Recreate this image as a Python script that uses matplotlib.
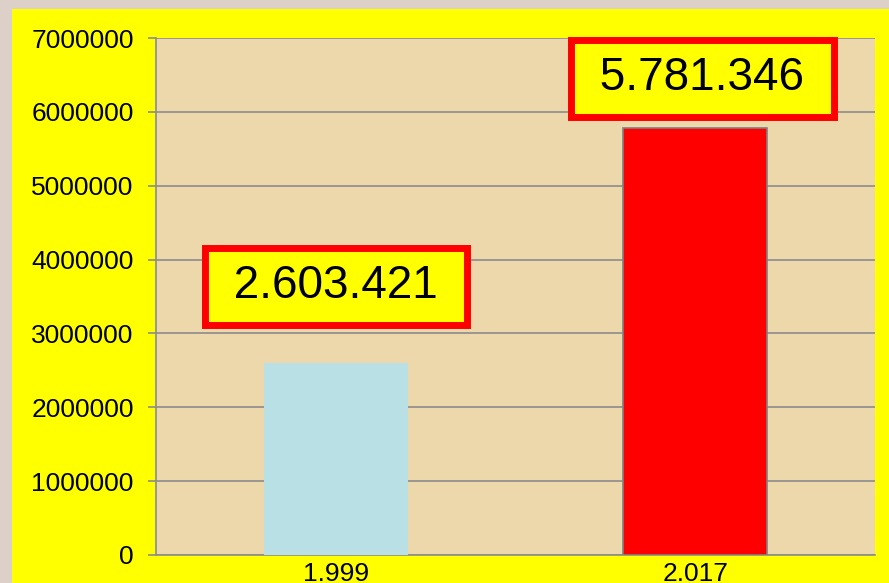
import numpy as np
import matplotlib.pyplot as plt
from matplotlib.patches import Rectangle
from matplotlib.ticker import MultipleLocator, FuncFormatter

plt.rcParams['font.family'] = ['Liberation Sans', 'DejaVu Sans']

# data
years = ['1.999', '2.017']
population = [2603421, 5781346]
value_labels = ['2.603.421', '5.781.346']

bar_colors = ['#b9e0e5', '#ff0000']
bar_edges = ['none', '#808080']
label_offsets = [(0, 55), (5, 36)]   # points above bar top

fig = plt.figure(figsize=(8.89, 5.83), dpi=100, facecolor='#ddd0c8')
# yellow chart area
fig.patches.append(Rectangle((12 / 889, 0), 1, 1 - 9 / 583, transform=fig.transFigure,
                             facecolor='#ffff00', edgecolor='none', zorder=-10))

ax = fig.add_axes([156 / 889, 28 / 583, 719 / 889, 517 / 583])
ax.set_facecolor('#ecd8ab')

x = np.arange(len(years))
bars = ax.bar(x, population, 0.4, color=bar_colors, edgecolor=bar_edges, linewidth=1.2, zorder=3)

ax.set_xlim(-0.5, len(years) - 0.5)
ax.set_ylim(0, 7000000)
ax.yaxis.set_major_locator(MultipleLocator(1000000))
ax.yaxis.set_major_formatter(FuncFormatter(lambda v, p: '%d' % v))
ax.set_xticks(x)
ax.set_xticklabels(years)
ax.grid(axis='y', color='#8c8c8c', linewidth=1.2, zorder=1)
ax.set_axisbelow(True)

for s in ['top', 'right']:
    ax.spines[s].set_visible(False)
for s in ['left', 'bottom']:
    ax.spines[s].set_color('#8c8c8c')
    ax.spines[s].set_linewidth(1.2)

ax.tick_params(axis='y', length=6, color='#8c8c8c', width=1.2, pad=10, labelsize=19)
ax.tick_params(axis='x', length=0, pad=5, labelsize=19)

for i, b in enumerate(bars):
    ax.annotate(' ' + value_labels[i] + ' ', (b.get_x() + b.get_width() / 2, b.get_height()),
                xytext=label_offsets[i], textcoords='offset points',
                ha='center', va='center', fontsize=33, zorder=5,
                bbox=dict(boxstyle='square,pad=0.36', facecolor='#ffff00',
                          edgecolor='#ff0000', linewidth=5))

fig.savefig('out.png', dpi=100, facecolor=fig.get_facecolor())
